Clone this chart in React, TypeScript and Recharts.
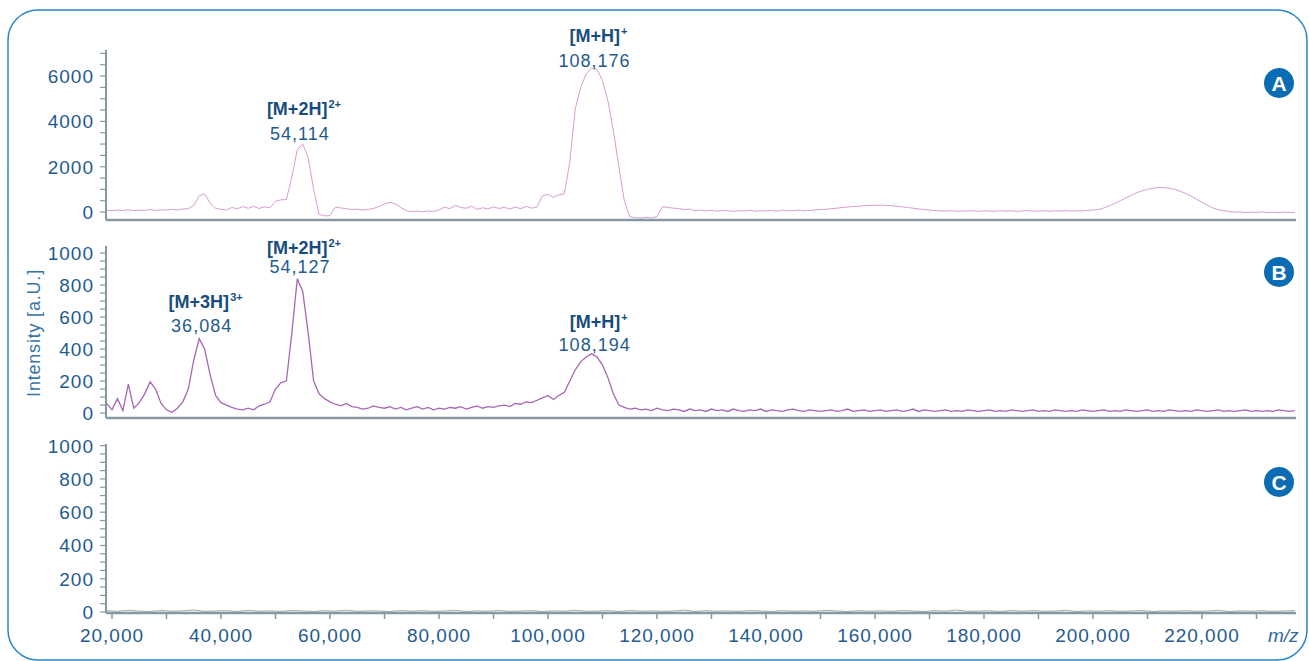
import React from "react";
import { LineChart, Line, XAxis, YAxis, ReferenceDot } from "recharts";

// spectra are sampled on an even m/z grid starting at MZ_START
const MZ_START = 19000;
const MZ_STEP_AB = 1000;
const MZ_STEP_C = 2000;

const intensityA = [
  80, 60, 95, 70, 105, 60, 90, 75, 115, 70, 100, 85,
  120, 95, 135, 150, 300, 720, 800, 400, 170, 120,
  90, 200, 150, 240, 170, 250, 160, 230, 190, 480,
  540, 550, 1550, 2750, 3000, 2400, 1000, -100, -170, -160,
  220, 180, 150, 110, 130, 90, 120, 160, 250, 360,
  430, 350, 200, 60, 20, 40, 10, 50, 30, 90,
  220, 150, 300, 200, 170, 260, 120, 190, 140, 230,
  160, 210, 130, 220, 150, 250, 170, 230, 720, 780,
  650, 760, 800, 2200, 4550, 5500, 6100, 6350, 6300, 5800,
  4900, 3600, 2000, 500, -200, -250, -270, -230, -260, -200,
  240, 200, 175, 150, 110, 130, 60, 85, 50, 75,
  40, 70, 55, 30, 65, 45, 80, 35, 60, 50,
  70, 40, 85, 55, 65, 90, 50, 75, 95, 110,
  120, 150, 170, 200, 220, 245, 260, 280, 290, 300,
  305, 295, 280, 255, 230, 200, 170, 140, 110, 90,
  70, 55, 45, 60, 35, 50, 40, 65, 30, 55,
  45, 35, 60, 40, 55, 30, 50, 65, 40, 45,
  60, 35, 55, 45, 70, 40, 60, 50, 75, 90,
  110, 180, 280, 380, 500, 620, 740, 850, 940, 1000,
  1050, 1090, 1080, 1050, 1000, 920, 820, 700, 570, 430,
  300, 180, 100, 60, 30, -10, 10, -30, 0, -20,
  10, -25, -5, -30, 0, -15, -20,
];

const intensityB = [
  60, 20, 90, 15, 180, 30, 65, 120, 195, 150, 60, 20,
  5, 30, 70, 150, 330, 465, 400, 240, 110, 65,
  50, 35, 25, 20, 30, 20, 45, 55, 70, 150,
  190, 200, 500, 840, 760, 500, 200, 120, 90, 70,
  55, 45, 60, 40, 35, 25, 30, 45, 35, 30,
  40, 25, 35, 20, 30, 40, 25, 35, 20, 30,
  25, 35, 30, 40, 25, 35, 45, 30, 40, 35,
  45, 50, 40, 60, 55, 70, 65, 80, 95, 110,
  85, 110, 130, 200, 270, 320, 350, 370, 350, 300,
  220, 120, 50, 35, 25, 30, 20, 25, 15, 30,
  20, 15, 25, 20, 10, 25, 15, 20, 10, 25,
  15, 20, 10, 25, 15, 10, 20, 15, 25, 10,
  20, 15, 10, 20, 25, 15, 10, 20, 15, 10,
  15, 20, 10, 15, 25, 10, 15, 20, 10, 15,
  20, 10, 15, 20, 10, 15, 25, 10, 20, 15,
  10, 15, 20, 10, 15, 10, 20, 15, 10, 15,
  20, 10, 15, 10, 20, 15, 10, 15, 20, 10,
  15, 10, 20, 15, 10, 15, 10, 20, 15, 10,
  15, 20, 10, 15, 10, 20, 15, 10, 15, 20,
  10, 15, 10, 20, 15, 10, 15, 10, 20, 15,
  10, 15, 20, 10, 15, 10, 15, 20, 10, 15,
  10, 15, 10, 20, 15, 10, 15,
];

const intensityC = [
  8, 4, 10, 6, 3, 9, 5, 7, 12, 4,
  6, 8, 3, 10, 5, 7, 4, 9, 6, 3,
  8, 5, 11, 4, 7, 6, 3, 9, 5, 8,
  4, 6, 10, 3, 7, 5, 9, 4, 6, 8,
  3, 7, 5, 10, 4, 6, 8, 3, 9, 5,
  7, 4, 6, 11, 3, 8, 5, 7, 4, 9,
  6, 3, 8, 5, 7, 4, 10, 6, 3, 8,
  5, 7, 4, 9, 6, 3, 8, 5, 12, 4,
  6, 7, 3, 9, 5, 8, 4, 6, 10, 3,
  7, 5, 8, 4, 6, 9, 3, 7, 5, 8,
  4, 6, 10, 3, 7, 5, 8, 4, 6, 9,
];

const xTicks = [
  20000, 30000, 40000, 50000, 60000, 70000, 80000, 90000, 100000, 110000, 120000,
  130000, 140000, 150000, 160000, 170000, 180000, 190000, 200000, 210000, 220000, 230000,
];
const yTicksA = [0, 500, 1000, 1500, 2000, 2500, 3000, 3500, 4000, 4500, 5000, 5500, 6000, 6500, 7000];
const yTicksBC = [
  0, 50, 100, 150, 200, 250, 300, 350, 400, 450, 500,
  550, 600, 650, 700, 750, 800, 850, 900, 950, 1000,
];

const peaksA = [
  { ion: "[M+2H]", charge: "2+", mz: 54114, intensity: 3000 },
  { ion: "[M+H]", charge: "+", mz: 108176, intensity: 6350 },
];
const peaksB = [
  { ion: "[M+3H]", charge: "3+", mz: 36084, intensity: 450 },
  { ion: "[M+2H]", charge: "2+", mz: 54127, intensity: 800 },
  { ion: "[M+H]", charge: "+", mz: 108194, intensity: 370 },
];

// label baselines relative to the peak top, px: [ion line, m/z line]
const offsetsA = [[-29, -4], [-26, -1.5]];
const offsetsB = [[-33, -9.5], [-31, -12], [-26, -3]];

const W = 1309;
const H = 661;
const X_DOMAIN = [18900, 237250];
const PLOT_LEFT = 106;
const PLOT_RIGHT = 1296;
const AXIS_W = 60;
const XAXIS_H = 40;

const FONT = "'Liberation Sans', Arial, sans-serif";
const TEXT_BLUE = "#1f5b8e";
const LABEL_BLUE = "#174c7e";
const AXIS_GREY = "#8698a3";

const toRows = (step: number, values: number[]) =>
  values.map((v, i) => ({ mz: MZ_START + i * step, v }));

const YTick = (props: any) => {
  const { x, y, payload, every } = props;
  if (payload.value % every !== 0) return <g />;
  return (
    <text x={x} y={y} dy="0.36em" textAnchor="end" fill={TEXT_BLUE}
      fontFamily={FONT} fontSize={19} letterSpacing={1}>
      {payload.value}
    </text>
  );
};

const XTick = (props: any) => {
  const { x, y, payload } = props;
  if (payload.value % 20000 !== 0) return <g />;
  return (
    <text x={x} y={y} dy="0.71em" textAnchor="middle" fill={TEXT_BLUE}
      fontFamily={FONT} fontSize={19} letterSpacing={1}>
      {payload.value.toLocaleString("en-US")}
    </text>
  );
};

const PeakLabel = (props: any) => {
  const { cx, cy, peak, offset } = props;
  if (cx == null || cy == null) return <g />;
  return (
    <g>
      <text x={cx + 6} y={cy + offset[0]} textAnchor="middle" fill={LABEL_BLUE}
        fontFamily={FONT} fontSize={18} fontWeight="bold">
        {peak.ion}
        <tspan fontSize={11} dx={1} dy={-7}>{peak.charge}</tspan>
      </text>
      <text x={cx + 2} y={cy + offset[1]} textAnchor="middle" fill={TEXT_BLUE}
        fontFamily={FONT} fontSize={18} letterSpacing={1}>
        {peak.mz.toLocaleString("en-US")}
      </text>
    </g>
  );
};

type PanelProps = {
  rows: { mz: number; v: number }[];
  yDomain: number[];
  yTicks: number[];
  labelEvery: number;
  top: number;
  bottom: number;
  color: string;
  width?: number;
  peaks: typeof peaksB;
  offsets: number[][];
  showX?: boolean;
};

const Panel = ({ rows, yDomain, yTicks, labelEvery, top, bottom, color, width = 1, peaks, offsets, showX }: PanelProps) => (
  <div style={{ position: "absolute", left: 0, top: 0 }}>
    <LineChart
      width={W}
      height={H}
      data={rows}
      margin={{ top, right: W - PLOT_RIGHT, bottom: H - bottom - XAXIS_H, left: PLOT_LEFT - AXIS_W }}
    >
      <XAxis
        type="number"
        dataKey="mz"
        domain={X_DOMAIN}
        allowDataOverflow
        height={XAXIS_H}
        ticks={showX ? xTicks : []}
        interval={0}
        tick={showX ? <XTick /> : false}
        tickLine={showX ? { stroke: AXIS_GREY, strokeWidth: 1.5 } : false}
        tickSize={6}
        tickMargin={10}
        axisLine={{ stroke: AXIS_GREY, strokeWidth: 2.5 }}
      />
      <YAxis
        type="number"
        domain={yDomain}
        allowDataOverflow
        width={AXIS_W}
        ticks={yTicks}
        interval={0}
        tick={<YTick every={labelEvery} />}
        tickLine={{ stroke: AXIS_GREY, strokeWidth: 1.2 }}
        tickSize={6}
        tickMargin={6}
        axisLine={{ stroke: AXIS_GREY, strokeWidth: 2 }}
      />
      <Line
        type="linear"
        dataKey="v"
        stroke={color}
        strokeWidth={width}
        dot={false}
        isAnimationActive={false}
      />
      {peaks.map((pk, i) => (
        <ReferenceDot
          key={pk.mz}
          x={pk.mz}
          y={pk.intensity}
          r={0}
          shape={(p: any) => <PeakLabel {...p} peak={pk} offset={offsets[i]} />}
        />
      ))}
    </LineChart>
  </div>
);

const Badge = ({ cy, letter }: { cy: number; letter: string }) => (
  <g>
    <circle cx={1279} cy={cy} r={15} fill="#0b6cb3" />
    <text x={1279} y={cy} dy="0.36em" textAnchor="middle" fill="#fff"
      fontFamily={FONT} fontWeight="bold" fontSize={21}>
      {letter}
    </text>
  </g>
);

export default function App() {
  return (
    <div style={{ position: "absolute", left: 0, top: 0, width: W, height: H, background: "#fff" }}>
      <Panel
        rows={toRows(MZ_STEP_AB, intensityA)}
        yDomain={[-350, 7150]}
        yTicks={yTicksA}
        labelEvery={2000}
        top={50}
        bottom={220}
        color="#d79dd1"
        peaks={peaksA}
        offsets={offsetsA}
      />
      <Panel
        rows={toRows(MZ_STEP_AB, intensityB)}
        yDomain={[-31, 1044]}
        yTicks={yTicksBC}
        labelEvery={200}
        top={246}
        bottom={418}
        color="#a866b8"
        width={1.3}
        peaks={peaksB}
        offsets={offsetsB}
      />
      <Panel
        rows={toRows(MZ_STEP_C, intensityC)}
        yDomain={[-6, 1010]}
        yTicks={yTicksBC}
        labelEvery={200}
        top={444}
        bottom={613}
        color="#a2aaa9"
        peaks={[]}
        offsets={[]}
        showX
      />
      <svg width={W} height={H} style={{ position: "absolute", left: 0, top: 0, pointerEvents: "none" }}>
        <rect x={8} y={10} width={1299} height={650} rx={30} fill="none" stroke="#2a86c8" strokeWidth={1.5} />
        <text transform="translate(40,333) rotate(-90)" textAnchor="middle" fill="#3574a8"
          fontFamily={FONT} fontSize={18} letterSpacing={0.8}>
          Intensity [a.U.]
        </text>
        <text x={1268} y={642} fill="#2b6ba1" fontFamily={FONT} fontSize={19} fontStyle="italic">
          m/z
        </text>
        <Badge cy={83} letter="A" />
        <Badge cy={272} letter="B" />
        <Badge cy={482} letter="C" />
      </svg>
    </div>
  );
}
